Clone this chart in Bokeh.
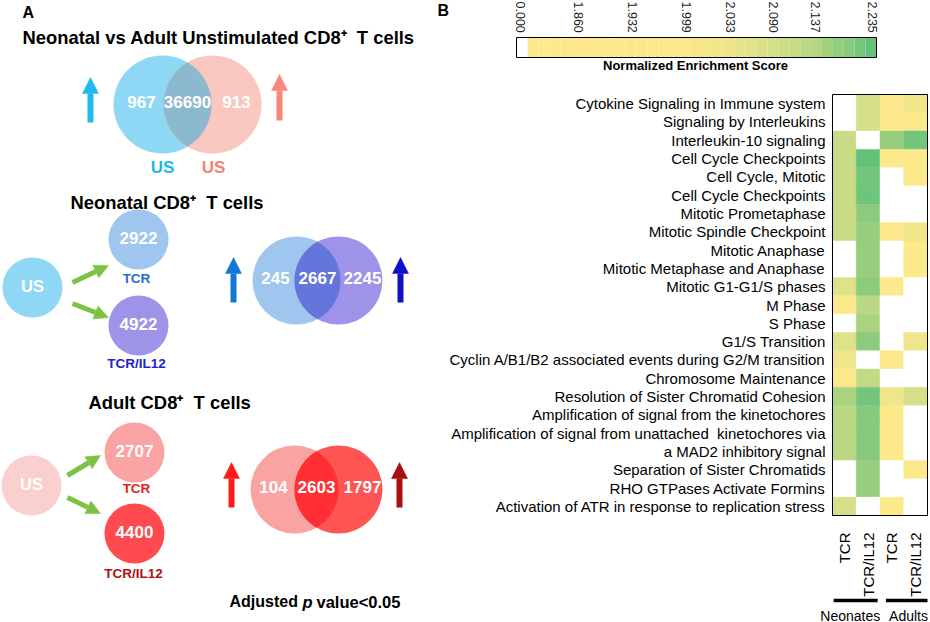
import math
import numpy as np
from bokeh.plotting import figure
from bokeh.models import Range1d, Arrow, NormalHead, ColumnDataSource
from bokeh.core.properties import value
from bokeh.embed import file_html
from bokeh.resources import INLINE

# ---------------- data ----------------
unstim_venn = [967, 36690, 913]          # neonatal only, shared, adult only
unstim_sets = ["US", "US"]
baseline_label = "US"
stimuli = ["TCR", "TCR/IL12"]
neo_totals = [2922, 4922]
neo_venn = [245, 2667, 2245]
adult_totals = [2707, 4400]
adult_venn = [104, 2603, 1797]

pathways = [
    "Cytokine Signaling in Immune system",
    "Signaling by Interleukins",
    "Interleukin-10 signaling",
    "Cell Cycle Checkpoints",
    "Cell Cycle, Mitotic",
    "Cell Cycle Checkpoints",
    "Mitotic Prometaphase",
    "Mitotic Spindle Checkpoint",
    "Mitotic Anaphase",
    "Mitotic Metaphase and Anaphase",
    "Mitotic G1-G1/S phases",
    "M Phase",
    "S Phase",
    "G1/S Transition",
    "Cyclin A/B1/B2 associated events during G2/M transition",
    "Chromosome Maintenance",
    "Resolution of Sister Chromatid Cohesion",
    "Amplification of signal from the kinetochores",
    "Amplification of signal from unattached\u00a0 kinetochores via\na MAD2 inhibitory signal",
    "Separation of Sister Chromatids",
    "RHO GTPases Activate Formins",
    "Activation of ATR in response to replication stress",
]
columns = ["TCR", "TCR/IL12", "TCR", "TCR/IL12"]
groups = ["Neonates", "Adults"]
nes_neonate_tcr = [0, 0, 2.11, 2.11, 2.11, 2.11, 2.11, 2.11, 0, 0, 2.07, 1.90, 0, 2.07, 2.03, 1.90, 2.15, 2.13, 2.13, 0, 0, 2.09]
nes_neonate_il12 = [2.09, 2.09, 0, 2.235, 2.22, 2.225, 2.19, 2.17, 2.17, 2.17, 2.19, 2.13, 2.15, 2.19, 0, 2.12, 2.22, 2.20, 2.20, 2.17, 2.17, 0]
nes_adult_tcr = [1.90, 1.90, 2.17, 1.90, 0, 0, 0, 1.90, 0, 0, 1.90, 0, 0, 0, 1.90, 0, 2.03, 1.90, 1.90, 0, 0, 1.90]
nes_adult_il12 = [2.03, 1.98, 2.22, 1.90, 1.90, 0, 0, 2.03, 1.90, 1.90, 0, 0, 0, 2.03, 0, 0, 2.09, 0, 0, 1.90, 0, 0]
cbar_ticks = [0.000, 1.860, 1.932, 1.999, 2.033, 2.090, 2.137, 2.235]

# ---------------- style ----------------
W, H = 930, 622
FONT = "Liberation Sans"
CMAP = [(1.860, "#fde98b"), (1.999, "#fae88a"), (2.033, "#eee58a"), (2.090, "#d5e088"),
        (2.137, "#b5d782"), (2.170, "#97ce7e"), (2.200, "#86ca7d"), (2.235, "#63c17a")]


def nes_color(v):
    if v <= 0:
        return "#ffffff"
    xs = [a for a, _ in CMAP]
    rgb = np.array([[int(h[i:i + 2], 16) for i in (1, 3, 5)] for _, h in CMAP], dtype=float)
    c = [int(round(np.interp(v, xs, rgb[:, k]))) for k in range(3)]
    return "#%02x%02x%02x" % tuple(c)


def fs(v):
    return value(f"{v:.2f}px")


def txt(p, x, y, t, size, color="black", style="bold", align="center", angle=0.0,
        baseline="middle", **kw):
    p.text(x=[x], y=[y], text=[t], text_font=value(FONT), text_font_size=fs(size),
           text_font_style=style, text_color=color, text_align=align,
           text_baseline=baseline, angle=angle, **kw)


def lens(x1, x2, y, r1, r2, n=80):
    d = x2 - x1
    a = (d * d + r1 * r1 - r2 * r2) / (2 * d)
    h = math.sqrt(r1 * r1 - a * a)
    t1 = math.atan2(h, a)
    t2 = math.atan2(h, d - a)
    th1 = np.linspace(-t1, t1, n)
    th2 = np.linspace(math.pi - t2, math.pi + t2, n)
    xs = np.concatenate([x1 + r1 * np.cos(th1), x2 + r2 * np.cos(th2)])
    ys = np.concatenate([y + r1 * np.sin(th1), y + r2 * np.sin(th2)])
    return xs, ys


p = figure(width=W, height=H, x_range=Range1d(0, W), y_range=Range1d(H, 0),
           output_backend="svg", toolbar_location=None, x_axis_location=None,
           y_axis_location=None, min_border=0, outline_line_color=None)
p.grid.visible = False


def venn(x1, x2, y, r, c1, c2, c12, counts):
    p.circle(x=[x1], y=[y], radius=r, fill_color=c1, line_color=None)
    p.circle(x=[x2], y=[y], radius=r, fill_color=c2, line_color=None)
    lx, ly = lens(x1, x2, y, r, r)
    p.patch(lx, ly, fill_color=c12, line_color=None)
    for xx, n in zip([x1 - 21, (x1 + x2) / 2, x2 + 24], counts):
        txt(p, xx, y - 3, str(n), 17, "white")


def up_arrow(x, y0, y1, color, w=6, head=16):
    p.add_layout(Arrow(x_start=x, y_start=y0, x_end=x, y_end=y1, line_color=color, line_width=w,
                       end=NormalHead(size=head, fill_color=color, line_color=color, line_width=0.5)))


def green_arrow(x0, y0, x1, y1):
    c = "#7dc243"
    p.add_layout(Arrow(x_start=x0, y_start=y0, x_end=x1, y_end=y1, line_color=c, line_width=5,
                       end=NormalHead(size=14, fill_color=c, line_color=c, line_width=0.5)))


def small_circle(x, y, color, label):
    p.circle(x=[x], y=[y], radius=30, fill_color=color, line_color=None)
    txt(p, x, y - 2, label, 17 if label != baseline_label else 16.5, "white")


# ---------------- panel A ----------------
TITLE = 18.4
txt(p, 22, 12, "A", 16, align="left")

txt(p, 22, 37, "Neonatal vs Adult Unstimulated CD8\u207a\u00a0 T cells", TITLE, align="left")
venn(162, 212, 104, 49, "#8fd8f5", "#f9c7c0", "#8db9ce", unstim_venn)
txt(p, 162, 167, unstim_sets[0], 17, "#1db8ee")
txt(p, 213, 167, unstim_sets[1], 17, "#f28372")
up_arrow(90, 122, 77, "#1dbbef")
up_arrow(279, 120, 74, "#f7877a")

txt(p, 70, 202, "Neonatal CD8\u207a\u00a0 T cells", TITLE, align="left")
small_circle(32, 287, "#8fd8f5", baseline_label)
small_circle(138, 239, "#9ec6ee", str(neo_totals[0]))
small_circle(138, 325, "#9d93e8", str(neo_totals[1]))
txt(p, 136, 278, stimuli[0], 13.5, "#1f6fcb")
txt(p, 136, 363, stimuli[1], 13.5, "#2222cc")
green_arrow(72, 282, 108, 265)
green_arrow(72, 303, 108, 317)
venn(296, 338, 280, 44, "#9ec6ee", "#9d93e8", "#6476dc", neo_venn)
up_arrow(233, 302, 257, "#1478d2")
up_arrow(400, 302, 257, "#1010c8")

txt(p, 88, 402, "Adult CD8\u207a\u00a0 T cells", TITLE, align="left")
small_circle(31, 485, "#f9d0cd", baseline_label)
small_circle(134, 452, "#f9a3a2", str(adult_totals[0]))
small_circle(134, 533, "#ff4b4f", str(adult_totals[1]))
txt(p, 136, 488, stimuli[0], 13.5, "#e42226")
txt(p, 133, 573, stimuli[1], 13.5, "#b30f14")
green_arrow(67, 475, 100, 455)
green_arrow(67, 497, 100, 513)
venn(294, 338, 489, 44, "#f9a3a2", "#ff5454", "#ff2f33", adult_venn)
up_arrow(231, 507, 462, "#ff1a1a")
up_arrow(399, 507, 462, "#a80f0f")

txt(p, 229, 601, "Adjusted", 16, align="left")
txt(p, 302, 601, "p", 16.5, style="bold italic", align="left")
txt(p, 316, 601, "value<0.05", 16.5, align="left")

# ---------------- panel B : colour bar ----------------
txt(p, 437, 10, "B", 16, align="left")
CB_L, CB_R, CB_T, CB_B = 516, 876, 37, 57
CB_TICK_X = [520, 578, 632, 686, 730, 773, 815, 872]
edges = np.linspace(CB_L + 11, CB_R, 33)
lefts = [CB_L] + list(edges[:-1])
rights = [CB_L + 11] + list(edges[1:])
vals = [cbar_ticks[0]] + [float(np.interp((a + b) / 2, CB_TICK_X[1:], cbar_ticks[1:]))
                          for a, b in zip(edges[:-1], edges[1:])]
p.quad(left=lefts, right=rights, top=CB_T, bottom=CB_B,
       fill_color=[nes_color(v) for v in vals], line_color=None)
p.quad(left=[CB_L], right=[CB_R], top=[CB_T], bottom=[CB_B], fill_color=None,
       line_color="black", line_width=1)
p.text(x=CB_TICK_X, y=[1] * len(cbar_ticks), text=[f"{t:.3f}" for t in cbar_ticks],
       angle=-math.pi / 2, text_align="left", text_baseline="middle",
       text_font=value(FONT), text_font_size=fs(12.5), text_color="#222222")
txt(p, 695, 65, "Normalized Enrichment Score", 13)

# ---------------- panel B : heatmap ----------------
HEAT_L, HEAT_R, HEAT_T, HEAT_B = 832, 927, 94, 515
spans = [s.count("\n") + 1 for s in pathways]
starts = np.concatenate([[0], np.cumsum(spans)[:-1]])
n_slots = int(sum(spans))
n_cols = len(columns)
cw = (HEAT_R - HEAT_L) / n_cols
rh = (HEAT_B - HEAT_T) / n_slots
p.extra_x_ranges = {"cols": Range1d(-HEAT_L / cw, n_cols + (W - HEAT_R) / cw)}
p.extra_y_ranges = {"rows": Range1d(n_slots + (H - HEAT_B) / rh, -HEAT_T / rh)}

series = [nes_neonate_tcr, nes_neonate_il12, nes_adult_tcr, nes_adult_il12]
L, R, T, B, C = [], [], [], [], []
for ci, ser in enumerate(series):
    for ri, v in enumerate(ser):
        L.append(ci); R.append(ci + 1)
        T.append(starts[ri]); B.append(starts[ri] + spans[ri])
        C.append(nes_color(v))
p.quad(source=ColumnDataSource(dict(left=L, right=R, top=T, bottom=B, color=C)),
       left="left", right="right", top="top", bottom="bottom",
       fill_color="color", line_color="color", line_width=0.5,
       x_range_name="cols", y_range_name="rows")
p.quad(left=[0], right=[n_cols], top=[0], bottom=[n_slots], fill_color=None,
       line_color="black", line_width=1, x_range_name="cols", y_range_name="rows")

label_y, label_t = [], []
for st, pth in zip(starts, pathways):
    for k, line in enumerate(pth.split("\n")):
        label_y.append(float(st + k + 0.5))
        label_t.append(line)
p.text(x=[HEAT_L - 7] * len(label_y), y=label_y, text=label_t, y_range_name="rows",
       text_align="right", text_baseline="middle", text_font=value(FONT),
       text_font_size=fs(15), text_color="black")

# column / group labels
p.text(x=[i + 0.5 for i in range(n_cols)], y=[532] * n_cols, text=columns, angle=math.pi / 2,
       text_align="right", text_baseline="middle", text_font=value(FONT),
       text_font_size=fs(15), text_color="black", x_range_name="cols")
BAR_PAD = [(0.05, 0.1), (0.25, 0.0)]
LABEL_SHIFT = [-0.25, 0.2]
for gi, g in enumerate(groups):
    p.segment(x0=[2 * gi + BAR_PAD[gi][0]], y0=[600], x1=[2 * gi + 2 - BAR_PAD[gi][1]], y1=[600],
              line_color="black", line_width=3.5, x_range_name="cols")
    txt(p, 2 * gi + 1 + LABEL_SHIFT[gi], 615, g, 14, style="normal", x_range_name="cols")

open("out.html", "w").write(file_html(p, INLINE))
